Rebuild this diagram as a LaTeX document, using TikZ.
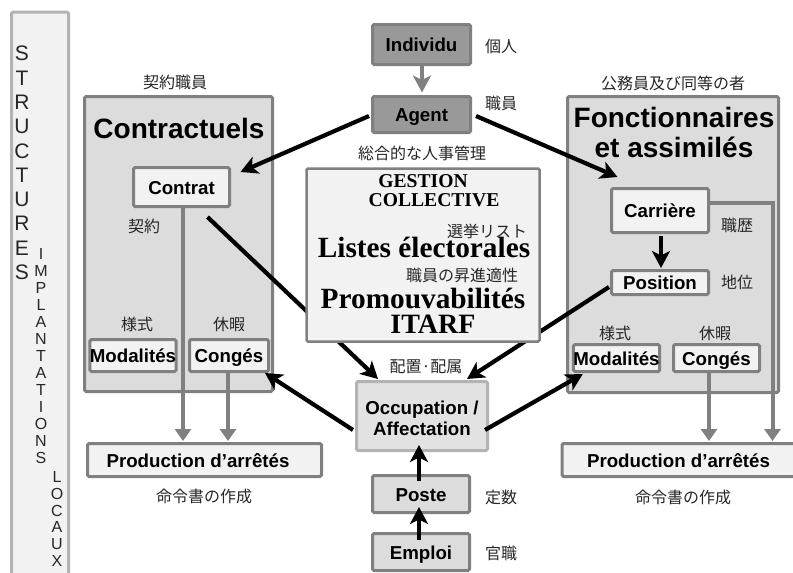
\documentclass[tikz,border=0pt]{standalone}
\usepackage{fontspec}
\setmainfont{Liberation Sans}
\newfontfamily\jp{Noto Sans CJK JP}
\newfontfamily\ser{Liberation Serif}
\usetikzlibrary{arrows.meta,calc}
\definecolor{gA}{HTML}{808080}
\definecolor{gB}{HTML}{B3B3B3}
\definecolor{fL}{HTML}{F2F2F2}
\definecolor{fM}{HTML}{DCDCDC}
\definecolor{fO}{HTML}{E2E2E2}
\definecolor{fD}{HTML}{999999}
\tikzset{
  x=1pt,y=-1pt,
  bx/.style={draw=gA,line width=3pt,rounded corners=1.5pt,inner sep=0pt,outer sep=0pt,font=\fontsize{18.7}{21}\selectfont\bfseries,align=center},
  lightbox/.style={bx,fill=fL,text height=14pt,text depth=0pt},
  midbox/.style={bx,fill=fM,text height=14pt,text depth=0pt},
  darkbox/.style={bx,fill=fD,text height=14pt,text depth=0pt},
  jl/.style={inner sep=0pt,font=\fontsize{16}{17}\selectfont\jp,text=black!85},
  title/.style={inner sep=0pt,font=\fontsize{28}{30}\selectfont\bfseries,align=center},
  sertitle/.style={inner sep=0pt,font=\fontsize{29.3}{30}\selectfont\ser\bfseries},
  sersmall/.style={inner sep=0pt,font=\fontsize{19.6}{20}\selectfont\ser\bfseries},
  vert/.style={inner sep=0pt,align=center,text=black!85},
  blackarrow/.style={line width=4.2pt,black,-{Stealth[length=17pt,width=18pt,inset=4.5pt]}},
  grayarrow/.style={line width=4pt,gA,-{Triangle[length=12pt,width=16pt]}},
  grayvee/.style={line width=4pt,gA,-{Stealth[length=17pt,width=18pt,inset=4.5pt]}},
}
\begin{document}
\begin{tikzpicture}
\useasboundingbox (0,0) rectangle (793,573);
\clip (0,0) rectangle (793,573);
% side bar
\node[draw=gB,fill=fL,line width=3pt,rounded corners=1.5pt,minimum width=57pt,minimum height=575pt,inner sep=0pt] (bar) at (40,299.5) {};
\node[vert,font=\fontsize{21}{24.3}\selectfont] (vS) at (22,163) {S\\T\\R\\U\\C\\T\\U\\R\\E\\S};
\node[vert,font=\fontsize{16}{17}\selectfont] (vI) at (41,356) {I\\M\\P\\L\\A\\N\\T\\A\\T\\I\\O\\N\\S};
\node[vert,font=\fontsize{16}{16.8}\selectfont] (vL) at (57,519) {L\\O\\C\\A\\U\\X};
% containers
\node[bx,fill=fM,minimum width=188pt,minimum height=295pt] (cbox) at (178.5,244) {};
\node[bx,fill=fM,minimum width=211pt,minimum height=296pt] (fbox) at (673,244.5) {};
\node[title] (ct) at (179,128) {Contractuels};
\node[title] (ft) at (674,132) {Fonctionnaires\\et assimilés};
% nodes
\node[lightbox,minimum width=96pt,minimum height=39pt] (contrat) at (181.5,187) {Contrat};
\node[lightbox,minimum width=85pt,minimum height=32pt] (modL) at (133,355.5) {Modalités};
\node[lightbox,minimum width=79pt,minimum height=32pt] (conL) at (229,355.5) {Congés};
\node[lightbox,minimum width=234pt,minimum height=33pt] (prodL) at (204.5,460) {Production d’arrêtés\hspace*{13pt}};
\node[darkbox,minimum width=98pt,minimum height=40pt] (individu) at (421.5,44.5) {Individu};
\node[darkbox,minimum width=98pt,minimum height=36pt] (agent) at (421.5,114.5) {Agent};
\node[bx,draw=gB,fill=fO,minimum width=131pt,minimum height=69pt] (occ) at (422,416) {\rule{0pt}{18.5pt}Occupation /\\Affectation};
\node[midbox,minimum width=97pt,minimum height=37pt] (poste) at (421,494) {Poste};
\node[midbox,minimum width=97pt,minimum height=37pt] (emploi) at (421,552) {Emploi};
\node[lightbox,minimum width=97pt,minimum height=44pt] (carriere) at (660,210.5) {Carrière};
\node[lightbox,minimum width=97pt,minimum height=24pt] (position) at (660,282.5) {Position};
\node[lightbox,minimum width=86pt,minimum height=27pt] (modR) at (616.5,358) {Modalités};
\node[lightbox,minimum width=86pt,minimum height=27pt] (conR) at (716.5,358) {Congés};
\node[lightbox,minimum width=233pt,minimum height=33pt] (prodR) at (678.5,460) {Production d’arrêtés};
% connectors behind the central box
\draw[blackarrow] ($(contrat.south east)+(-22,10.5)$) -- ($(occ.north west)+(21.5,-2.5)$);
\draw[blackarrow] ($(position.west)+(-2.5,4.5)$) -- ($(occ.north east)+(-20.5,-2.5)$);
% central box
\node[bx,fill=fL,line width=2.5pt,minimum width=233pt,minimum height=173pt] (gestion) at (423,255) {};
\node[sersmall] (g1) at (423,181) {GESTION};
\node[sersmall] (g2) at (434,200) {COLLECTIVE};
\node[sertitle] (g3) at (424,247) {Listes électorales};
\node[sertitle] (g4) at (423,298) {Promouvabilités};
\node[sertitle,font=\fontsize{28}{30}\selectfont\ser\bfseries] (g5) at (433,324) {ITARF};
% other connectors
\draw[grayvee] (individu.south) ++(0.5,0) -- ($(agent.north)+(0.5,-4)$);
\draw[blackarrow] ($(agent.west)+(-3.5,1.5)$) -- ($(contrat.north east)+(11,4.5)$);
\draw[blackarrow] ($(agent.east)+(5.5,1.5)$) -- ($(carriere.north west)+(6,-11.5)$);
\draw[blackarrow] ($(occ.west)+(-3.5,14)$) -- ($(conL.south east)+(-3.5,1.5)$);
\draw[blackarrow] ($(occ.east)+(-2.5,14)$) -- ($(modR.south west)+(9.5,2.5)$);
\draw[blackarrow] ($(poste.north)+(-2,5.5)$) -- ($(occ.south)+(-3,-5.5)$);
\draw[blackarrow] ($(emploi.north)+(-2,6.5)$) -- ($(poste.south)+(-2,-5.5)$);
\draw[blackarrow] ($(carriere.south)+(1,3.5)$) -- ($(position.north)+(1,-2.5)$);
\draw[grayarrow] ($(contrat.south)+(1.5,0)$) -- ($(prodL.north)+(-21.5,-2.5)$);
\draw[grayarrow] (conL.south) ++(-1,0) -- ($(prodL.north)+(23.5,-2.5)$);
\draw[grayarrow] ($(conR.south)+(-7.5,0)$) -- ($(prodR.north)+(30.5,-2.5)$);
\draw[grayarrow] ($(carriere.east)+(0,-8)$) -| ($(prodR.north)+(94,-2.5)$);
% japanese labels
\node[jl] (j1) at (175,82) {契約職員};
\node[jl] (j2) at (144,226) {契約};
\node[jl] (j3) at (137,324) {様式};
\node[jl] (j4) at (229,324) {休暇};
\node[jl] (j5) at (204,496) {命令書の作成};
\node[jl] (j6) at (501,46) {個人};
\node[jl] (j7) at (501,103) {職員};
\node[jl] (j8) at (422,153) {総合的な人事管理};
\node[jl] (j9) at (487,231) {選挙リスト};
\node[jl] (j10) at (462,275) {職員の昇進適性};
\node[jl] (j11) at (426,367) {配置·配属};
\node[jl] (j12) at (501,497) {定数};
\node[jl] (j13) at (501,553) {官職};
\node[jl] (j14) at (673,83) {公務員及び同等の者};
\node[jl] (j15) at (737,225) {職歴};
\node[jl] (j16) at (737,282) {地位};
\node[jl] (j17) at (615,333) {様式};
\node[jl] (j18) at (715,333) {休暇};
\node[jl] (j19) at (683,497) {命令書の作成};
\end{tikzpicture}
\end{document}
